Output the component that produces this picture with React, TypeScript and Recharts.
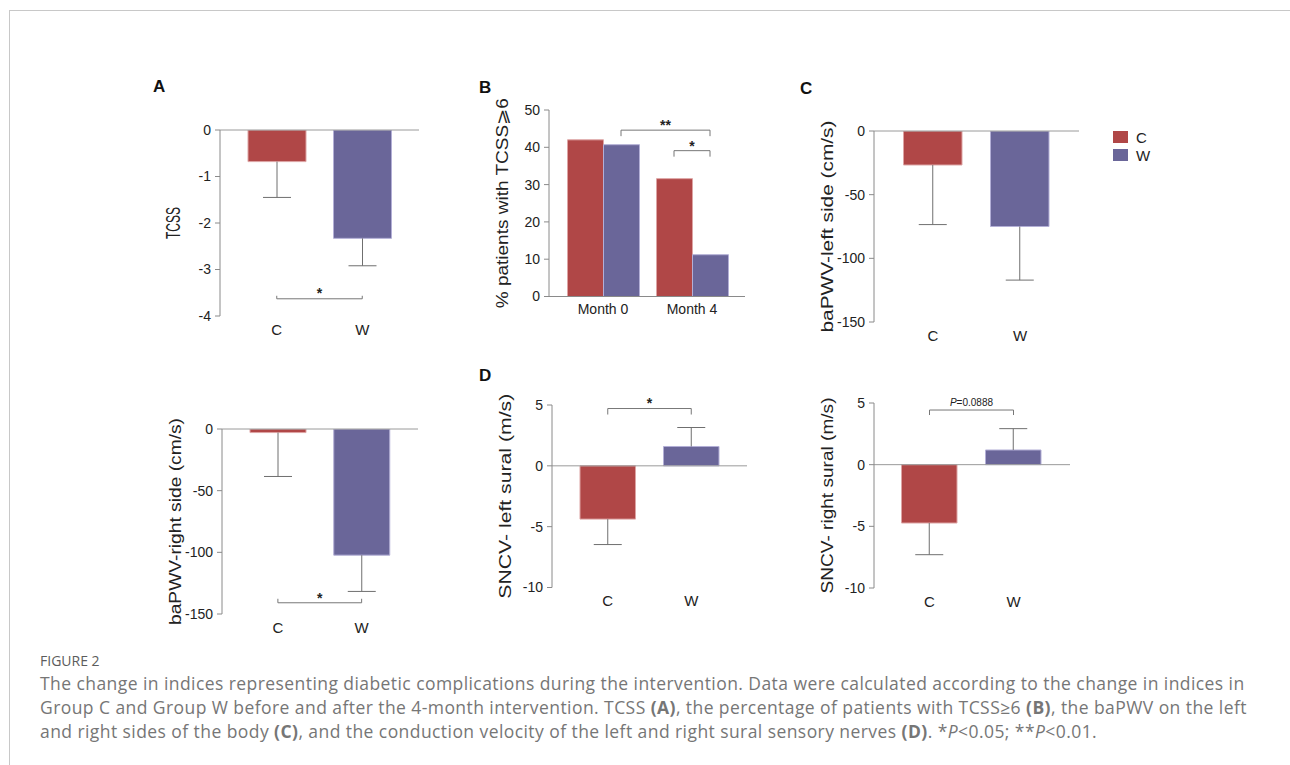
import React from "react";
import { ComposedChart, Bar, Cell, XAxis, YAxis, ReferenceLine } from "recharts";

// groups and timepoints
const groups = ["C", "W"];
const months = ["Month 0", "Month 4"];

// A: change in TCSS
const tcssMean = [-0.68, -2.33];
const tcssErr = [0.77, 0.59];
const tcssTicks = [0, -1, -2, -3, -4];

// B: % patients with TCSS >= 6
const pctC = [42.0, 31.6];
const pctW = [40.7, 11.2];
const pctTicks = [0, 10, 20, 30, 40, 50];

// C: baPWV change, left / right side
const pwvLeftMean = [-26.7, -75.0];
const pwvLeftErr = [46.8, 42.1];
const pwvRightMean = [-2.9, -102.3];
const pwvRightErr = [35.6, 29.4];
const pwvTicks = [0, -50, -100, -150];

// D: SNCV change, left / right sural
const sncvLeftMean = [-4.38, 1.59];
const sncvLeftErr = [2.09, 1.56];
const sncvRightMean = [-4.73, 1.19];
const sncvRightErr = [2.57, 1.73];
const sncvTicks = [5, 0, -5, -10];

const FONT = "'Liberation Sans', Arial, Helvetica, sans-serif";
const TEXT = "#222";
const AXIS = "#8a8a8a";
const ZERO = "#9a9a9a";
const ERR = "#6f6f6f";
const BRK = "#777";
const RED = "#b04747";
const PURPLE = "#6a6699";
const groupFill: Record<string, string> = { C: RED, W: PURPLE };
const groupStroke: Record<string, string> = { C: "#dda4a4", W: "#b3afd6" };

const YW = 75; // y axis area width
const MT = 24; // top margin
const MR = 6;
const XH = 30; // x axis height
const BAR_B = 36;
const CAP = 14;
const TICK_FS = 14;
const TITLE_GAP = 47;

type Box = { x: number; y: number; w: number; h: number };
type Bracket = {
  y: number;
  label: React.ReactNode;
  tick: number;
  size?: number;
  gap?: number;
  bold?: boolean;
};

// error stacked onto the mean so it points away from zero
const groupRows = (mean: number[], err: number[]) =>
  groups.map((g, i) => ({
    group: g,
    mean: mean[i],
    err: mean[i] < 0 ? -err[i] : err[i],
  }));

// whisker drawn inside the stacked error segment
const Whisker = (p: any) => {
  if (p.x == null || p.height == null) return <g />;
  const cx = p.x + p.width / 2;
  const a = Math.min(p.y, p.y + p.height);
  const b = Math.max(p.y, p.y + p.height);
  const down = p.payload && p.payload.err < 0;
  const far = down ? b : a;
  const near = down ? a : b;
  return (
    <g>
      <line x1={cx} x2={cx} y1={near} y2={far} stroke={ERR} strokeWidth={1} />
      <line x1={cx - CAP} x2={cx + CAP} y1={far} y2={far} stroke={ERR} strokeWidth={1} />
    </g>
  );
};

const yTitle = (text: string, len: number, size: number) => (props: any) => {
  const vb = props.viewBox || {};
  const cx = (vb.x ?? 0) + (vb.width ?? YW) - TITLE_GAP;
  const cy = (vb.y ?? MT) + (vb.height ?? 0) / 2;
  return (
    <text
      x={cx}
      y={cy}
      transform={`rotate(-90 ${cx} ${cy})`}
      textAnchor="middle"
      dominantBaseline="central"
      fontSize={size}
      fill={TEXT}
      fontFamily={FONT}
      textLength={len}
      lengthAdjust="spacingAndGlyphs"
    >
      {text}
    </text>
  );
};

const bracketShape = (b: Bracket, dx1 = 0, dx2 = 0) => (p: any) => {
  const x1 = p.x1 + dx1;
  const x2 = p.x2 + dx2;
  const y = p.y1;
  return (
    <g>
      <path
        d={`M${x1},${y + b.tick}V${y}H${x2}V${y + b.tick}`}
        fill="none"
        stroke={BRK}
        strokeWidth={1}
      />
      <text
        x={(x1 + x2) / 2}
        y={y - (b.gap ?? 1)}
        textAnchor="middle"
        fontSize={b.size ?? 14}
        fontWeight={b.bold === false ? 400 : 700}
        fill={TEXT}
        fontFamily={FONT}
      >
        {b.label}
      </text>
    </g>
  );
};

function GroupPanel(props: {
  box: Box;
  rows: any[];
  domain: [number, number];
  ticks: number[];
  title: string;
  titleLen: number;
  titleSize?: number;
  pad: { left: number; right: number };
  barSize: number;
  bracket?: Bracket;
}) {
  const { box, rows, domain, ticks, title, titleLen, titleSize = 16.5, pad, barSize, bracket } = props;
  return (
    <div style={{ position: "absolute", left: box.x - YW, top: box.y - MT }}>
      <ComposedChart
        width={YW + box.w + MR}
        height={MT + box.h + XH}
        data={rows}
        margin={{ top: MT, right: MR, bottom: 0, left: 0 }}
      >
        <XAxis
          dataKey="group"
          height={XH}
          padding={pad}
          axisLine={false}
          tickLine={false}
          interval={0}
          tickMargin={2}
          tick={{ fill: TEXT, fontSize: 15, fontFamily: FONT }}
        />
        <YAxis
          width={YW}
          type="number"
          domain={domain}
          ticks={ticks}
          allowDataOverflow
          interval={0}
          axisLine={{ stroke: AXIS }}
          tickLine={{ stroke: AXIS }}
          tickSize={5}
          tickMargin={4}
          tick={{ fill: TEXT, fontSize: TICK_FS, fontFamily: FONT }}
          label={{ value: title, content: yTitle(title, titleLen, titleSize) }}
        />
        <Bar dataKey="mean" stackId="s" barSize={barSize} isAnimationActive={false}>
          {rows.map((r) => (
            <Cell key={r.group} fill={groupFill[r.group]} stroke={groupStroke[r.group]} />
          ))}
        </Bar>
        <Bar
          dataKey="err"
          stackId="s"
          barSize={barSize}
          legendType="none"
          shape={Whisker}
          isAnimationActive={false}
        />
        <ReferenceLine y={0} stroke={ZERO} />
        {bracket && (
          <ReferenceLine
            segment={[
              { x: "C", y: bracket.y },
              { x: "W", y: bracket.y },
            ]}
            shape={bracketShape(bracket)}
          />
        )}
      </ComposedChart>
    </div>
  );
}

function PercentPanel() {
  const box: Box = { x: 549, y: 109.5, w: 196, h: 186.5 };
  const rows = months.map((m, i) => ({ month: m, C: pctC[i], W: pctW[i] }));
  return (
    <div style={{ position: "absolute", left: box.x - YW, top: box.y - MT }}>
      <ComposedChart
        width={YW + box.w + MR}
        height={MT + box.h + XH}
        data={rows}
        barGap={0}
        margin={{ top: MT, right: MR, bottom: 0, left: 0 }}
      >
        <XAxis
          dataKey="month"
          height={XH}
          padding={{ left: 9.5, right: 8.5 }}
          axisLine={{ stroke: AXIS }}
          tickLine={false}
          interval={0}
          tickMargin={2}
          tick={{ fill: TEXT, fontSize: 14, fontFamily: FONT }}
        />
        <YAxis
          width={YW}
          type="number"
          domain={[0, 50]}
          ticks={pctTicks}
          allowDataOverflow
          interval={0}
          axisLine={{ stroke: AXIS }}
          tickLine={{ stroke: AXIS }}
          tickSize={5}
          tickMargin={4}
          tick={{ fill: TEXT, fontSize: TICK_FS, fontFamily: FONT }}
          label={{
            value: "% patients with TCSS⩾6",
            content: yTitle("% patients with TCSS⩾6", 210, 16.5),
          }}
        />
        <Bar dataKey="C" fill={RED} stroke={groupStroke.C} barSize={BAR_B} isAnimationActive={false} />
        <Bar dataKey="W" fill={PURPLE} stroke={groupStroke.W} barSize={BAR_B} isAnimationActive={false} />
        <ReferenceLine
          segment={[
            { x: "Month 0", y: 44.6 },
            { x: "Month 4", y: 44.6 },
          ]}
          shape={bracketShape({ y: 44.6, label: "**", tick: 6, gap: 0 }, BAR_B / 2, BAR_B / 2)}
        />
        <ReferenceLine
          segment={[
            { x: "Month 4", y: 39.1 },
            { x: "Month 4", y: 39.1 },
          ]}
          shape={bracketShape({ y: 39.1, label: "*", tick: 6, gap: 0 }, -BAR_B / 2, BAR_B / 2)}
        />
      </ComposedChart>
    </div>
  );
}

const panelLetter = (text: string, left: number, top: number) => (
  <div
    style={{
      position: "absolute",
      left,
      top,
      fontFamily: FONT,
      fontWeight: 700,
      fontSize: 17,
      lineHeight: "17px",
      color: "#111",
    }}
  >
    {text}
  </div>
);

export default function App() {
  return (
    <div
      style={{
        position: "relative",
        width: 1290,
        height: 765,
        overflow: "hidden",
        background: "#fff",
      }}
    >
      <style>{"body{margin:0}"}</style>
      <div
        style={{
          position: "absolute",
          left: 9,
          top: 10,
          width: 1400,
          height: 900,
          borderLeft: "1px solid #c8c8c8",
          borderTop: "1px solid #c8c8c8",
        }}
      />

      {panelLetter("A", 153, 78)}
      {panelLetter("B", 479, 79)}
      {panelLetter("C", 800, 80)}
      {panelLetter("D", 479, 367)}

      <GroupPanel
        box={{ x: 220, y: 130, w: 199, h: 186 }}
        rows={groupRows(tcssMean, tcssErr)}
        domain={[-4, 0]}
        ticks={tcssTicks}
        title="TCSS"
        titleLen={32}
        titleSize={20}
        pad={{ left: 14, right: 14 }}
        barSize={58}
        bracket={{ y: -3.63, label: "*", tick: -3, gap: 1 }}
      />

      <PercentPanel />

      <GroupPanel
        box={{ x: 873.5, y: 131, w: 205, h: 191 }}
        rows={groupRows(pwvLeftMean, pwvLeftErr)}
        domain={[-150, 0]}
        ticks={pwvTicks}
        title="baPWV-left side (cm/s)"
        titleLen={212}
        pad={{ left: 15.5, right: 15.5 }}
        barSize={58.5}
      />

      <div style={{ position: "absolute", left: 1113, top: 128, fontFamily: FONT }}>
        {groups.map((g) => (
          <div key={g} style={{ display: "flex", alignItems: "center", height: 18 }}>
            <span style={{ display: "inline-block", width: 15, height: 12, background: groupFill[g] }} />
            <span style={{ marginLeft: 8, fontSize: 15, color: TEXT }}>{g}</span>
          </div>
        ))}
      </div>

      <GroupPanel
        box={{ x: 222, y: 429, w: 196, h: 185 }}
        rows={groupRows(pwvRightMean, pwvRightErr)}
        domain={[-150, 0]}
        ticks={pwvTicks}
        title="baPWV-right side (cm/s)"
        titleLen={207}
        pad={{ left: 14, right: 14.5 }}
        barSize={56}
        bracket={{ y: -140.9, label: "*", tick: -4, gap: 0 }}
      />

      <GroupPanel
        box={{ x: 552, y: 404.5, w: 195, h: 182.5 }}
        rows={groupRows(sncvLeftMean, sncvLeftErr)}
        domain={[-10, 5]}
        ticks={sncvTicks}
        title="SNCV- left sural (m/s)"
        titleLen={205}
        pad={{ left: 14, right: 14 }}
        barSize={55.5}
        bracket={{ y: 4.71, label: "*", tick: 6, gap: 1 }}
      />

      <GroupPanel
        box={{ x: 874, y: 402.5, w: 196, h: 185 }}
        rows={groupRows(sncvRightMean, sncvRightErr)}
        domain={[-10, 5]}
        ticks={sncvTicks}
        title="SNCV- right sural (m/s)"
        titleLen={196}
        pad={{ left: 13.5, right: 14.5 }}
        barSize={55.5}
        bracket={{
          y: 4.43,
          label: (
            <>
              <tspan fontStyle="italic">P</tspan>=0.0888
            </>
          ),
          tick: 5,
          size: 10,
          gap: 4,
          bold: false,
        }}
      />

      <div
        style={{
          position: "absolute",
          left: 40,
          top: 651,
          fontFamily: "'Open Sans', sans-serif",
          fontSize: 14,
          lineHeight: "20px",
          color: "#5c5c5c",
        }}
      >
        FIGURE 2
      </div>
      <div
        style={{
          position: "absolute",
          left: 40,
          top: 671,
          width: 1240,
          fontFamily: "'Open Sans', sans-serif",
          fontSize: 17.5,
          letterSpacing: 0.43,
          lineHeight: "24px",
          color: "#767676",
          whiteSpace: "nowrap",
        }}
      >
        The change in indices representing diabetic complications during the intervention. Data were calculated according to the change in indices in
        <br />
        Group C and Group W before and after the 4-month intervention. TCSS <b>(A)</b>, the percentage of patients with TCSS≥6 <b>(B)</b>, the baPWV on the left
        <br />
        and right sides of the body <b>(C)</b>, and the conduction velocity of the left and right sural sensory nerves <b>(D)</b>. *<i>P</i>&lt;0.05; **<i>P</i>&lt;0.01.
      </div>
    </div>
  );
}
